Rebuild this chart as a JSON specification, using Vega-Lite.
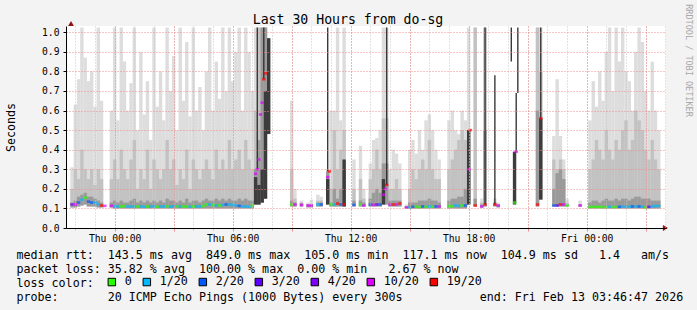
{
  "$schema": "https://vega.github.io/schema/vega-lite/v6.json",
  "width": 600,
  "height": 202,
  "autosize": {"type": "none"},
  "padding": {"left": 66, "top": 26, "right": 31, "bottom": 82},
  "background": "#f3f3f3",
  "config": {
    "view": {"fill": "#ffffff", "stroke": null},
    "font": "DejaVu Sans Mono",
    "axis": {"labelFont": "DejaVu Sans Mono", "titleFont": "DejaVu Sans Mono", "labelColor": "#000000", "titleColor": "#000000", "titleFontWeight": "normal"},
    "legend": {"labelFont": "DejaVu Sans Mono", "titleFont": "DejaVu Sans Mono"}
  },
  "title": {
    "text": "Last 30 Hours from do-sg",
    "font": "DejaVu Sans Mono",
    "fontSize": 13.2,
    "fontWeight": "normal",
    "color": "#000000",
    "anchor": "middle",
    "frame": "group",
    "baseline": "alphabetic",
    "offset": 0,
    "dx": -18,
    "dy": 33
  },
  "datasets": {
    "s": [
      {"t":"2026-02-11T21:50Z","lo":0.105,"a":0.31,"b":0.2,"c":0.13,"m":0.12,"l":"4/20"},
      {"t":"2026-02-11T22:00Z","lo":0.105,"a":0.63,"b":0.3,"c":0.14,"m":0.12,"l":"10/20"},
      {"t":"2026-02-11T22:10Z","lo":0.11,"a":0.76,"b":0.25,"c":0.16,"m":0.13,"l":"2/20"},
      {"t":"2026-02-11T22:20Z","lo":0.115,"a":1.024,"b":0.4,"c":0.17,"m":0.145,"l":"1/20"},
      {"t":"2026-02-11T22:30Z","lo":0.12,"a":0.87,"b":0.3,"c":0.18,"m":0.155,"l":"0"},
      {"t":"2026-02-11T22:40Z","lo":0.11,"a":0.75,"b":0.25,"c":0.16,"m":0.135,"l":"2/20"},
      {"t":"2026-02-11T22:50Z","lo":0.11,"a":0.8,"b":0.3,"c":0.16,"m":0.13,"l":"2/20"},
      {"t":"2026-02-11T23:00Z","lo":0.11,"a":0.62,"b":0.22,"c":0.15,"m":0.13,"l":"1/20"},
      {"t":"2026-02-11T23:10Z","lo":0.105,"a":1.024,"b":0.3,"c":0.14,"m":0.12,"l":"1/20"},
      {"t":"2026-02-11T23:20Z","lo":0.105,"a":0.65,"b":0.25,"c":0.13,"m":0.115,"l":"19/20"},
      {"t":"2026-02-11T23:30Z","m":0.113,"l":"10/20"},
      {"t":"2026-02-11T23:50Z","lo":0.105,"a":0.6,"b":0.25,"c":0.13,"m":0.113,"l":"10/20"},
      {"t":"2026-02-12T00:00Z","lo":0.1,"a":1.024,"b":0.35,"c":0.14,"m":0.11,"l":"1/20"},
      {"t":"2026-02-12T00:10Z","lo":0.1,"a":0.55,"b":0.25,"c":0.13,"m":0.11,"l":"1/20"},
      {"t":"2026-02-12T00:20Z","lo":0.1,"a":1.024,"b":0.4,"c":0.14,"m":0.11,"l":"0"},
      {"t":"2026-02-12T00:30Z","lo":0.1,"a":0.85,"b":0.3,"c":0.13,"m":0.112,"l":"0"},
      {"t":"2026-02-12T00:40Z","lo":0.1,"a":0.6,"b":0.25,"c":0.13,"m":0.11,"l":"1/20"},
      {"t":"2026-02-12T00:50Z","lo":0.1,"a":0.74,"b":0.35,"c":0.14,"m":0.11,"l":"1/20"},
      {"t":"2026-02-12T01:00Z","lo":0.1,"a":1.024,"b":0.45,"c":0.15,"m":0.108,"l":"1/20"},
      {"t":"2026-02-12T01:10Z","lo":0.1,"a":0.5,"b":0.2,"c":0.13,"m":0.11,"l":"0"},
      {"t":"2026-02-12T01:20Z","lo":0.1,"a":0.9,"b":0.3,"c":0.14,"m":0.11,"l":"1/20"},
      {"t":"2026-02-12T01:30Z","lo":0.1,"a":0.58,"b":0.25,"c":0.13,"m":0.108,"l":"1/20"},
      {"t":"2026-02-12T01:40Z","lo":0.1,"a":0.75,"b":0.4,"c":0.14,"m":0.11,"l":"0"},
      {"t":"2026-02-12T01:50Z","lo":0.1,"a":0.45,"b":0.2,"c":0.13,"m":0.11,"l":"1/20"},
      {"t":"2026-02-12T02:00Z","lo":0.1,"a":1.024,"b":0.35,"c":0.14,"m":0.11,"l":"1/20"},
      {"t":"2026-02-12T02:10Z","lo":0.1,"a":0.62,"b":0.3,"c":0.13,"m":0.108,"l":"0"},
      {"t":"2026-02-12T02:20Z","lo":0.1,"a":0.8,"b":0.25,"c":0.14,"m":0.11,"l":"1/20"},
      {"t":"2026-02-12T02:30Z","lo":0.1,"a":0.55,"b":0.3,"c":0.13,"m":0.11,"l":"1/20"},
      {"t":"2026-02-12T02:40Z","lo":0.1,"a":1.024,"b":0.45,"c":0.15,"m":0.11,"l":"0"},
      {"t":"2026-02-12T02:50Z","lo":0.1,"a":0.7,"b":0.3,"c":0.14,"m":0.108,"l":"1/20"},
      {"t":"2026-02-12T03:00Z","lo":0.1,"a":0.88,"b":0.35,"c":0.14,"m":0.11,"l":"1/20"},
      {"t":"2026-02-12T03:10Z","lo":0.1,"a":0.5,"b":0.22,"c":0.13,"m":0.11,"l":"0"},
      {"t":"2026-02-12T03:20Z","lo":0.1,"a":1.024,"b":0.3,"c":0.14,"m":0.11,"l":"1/20"},
      {"t":"2026-02-12T03:30Z","lo":0.1,"a":0.65,"b":0.25,"c":0.13,"m":0.11,"l":"0"},
      {"t":"2026-02-12T03:40Z","lo":0.1,"a":0.95,"b":0.4,"c":0.15,"m":0.11,"l":"0"},
      {"t":"2026-02-12T03:50Z","lo":0.1,"a":0.57,"b":0.2,"c":0.13,"m":0.108,"l":"1/20"},
      {"t":"2026-02-12T04:00Z","lo":0.1,"a":1.024,"b":0.35,"c":0.14,"m":0.11,"l":"0"},
      {"t":"2026-02-12T04:10Z","lo":0.1,"a":0.6,"b":0.3,"c":0.14,"m":0.11,"l":"1/20"},
      {"t":"2026-02-12T04:20Z","lo":0.1,"a":0.72,"b":0.25,"c":0.13,"m":0.11,"l":"1/20"},
      {"t":"2026-02-12T04:30Z","lo":0.1,"a":0.5,"b":0.3,"c":0.14,"m":0.112,"l":"0"},
      {"t":"2026-02-12T04:40Z","lo":0.1,"a":0.8,"b":0.35,"c":0.15,"m":0.12,"l":"0"},
      {"t":"2026-02-12T04:50Z","lo":0.1,"a":1.024,"b":0.3,"c":0.14,"m":0.12,"l":"1/20"},
      {"t":"2026-02-12T05:00Z","lo":0.1,"a":0.6,"b":0.25,"c":0.14,"m":0.118,"l":"0"},
      {"t":"2026-02-12T05:10Z","lo":0.1,"a":0.85,"b":0.4,"c":0.15,"m":0.115,"l":"1/20"},
      {"t":"2026-02-12T05:20Z","lo":0.1,"a":0.66,"b":0.3,"c":0.14,"m":0.115,"l":"0"},
      {"t":"2026-02-12T05:30Z","lo":0.1,"a":1.024,"b":0.35,"c":0.15,"m":0.118,"l":"1/20"},
      {"t":"2026-02-12T05:40Z","lo":0.1,"a":0.7,"b":0.3,"c":0.14,"m":0.12,"l":"2/20"},
      {"t":"2026-02-12T05:50Z","lo":0.1,"a":1.024,"b":0.45,"c":0.15,"m":0.12,"l":"1/20"},
      {"t":"2026-02-12T06:00Z","lo":0.1,"a":0.75,"b":0.3,"c":0.14,"m":0.118,"l":"1/20"},
      {"t":"2026-02-12T06:10Z","lo":0.1,"a":0.9,"b":0.35,"c":0.14,"m":0.115,"l":"1/20"},
      {"t":"2026-02-12T06:20Z","lo":0.1,"a":1.024,"b":0.4,"c":0.15,"m":0.113,"l":"2/20"},
      {"t":"2026-02-12T06:30Z","lo":0.1,"a":0.6,"b":0.3,"c":0.14,"m":0.11,"l":"1/20"},
      {"t":"2026-02-12T06:40Z","lo":0.1,"a":1.024,"b":0.45,"c":0.15,"m":0.11,"l":"1/20"},
      {"t":"2026-02-12T06:50Z","lo":0.1,"a":0.9,"b":0.35,"c":0.14,"m":0.108,"l":"1/20"},
      {"t":"2026-02-12T07:00Z","lo":0.1,"a":0.7,"b":0.3,"c":0.14,"m":0.115,"l":"0"},
      {"t":"2026-02-12T07:10Z","lo":0.12,"a":1.024,"b":0.6,"c":0.3,"d":0.26,"m":0.277,"l":"10/20"},
      {"t":"2026-02-12T07:15Z","m":0.3,"l":"10/20"},
      {"t":"2026-02-12T07:20Z","lo":0.12,"a":1.024,"b":1.024,"c":0.45,"d":0.22,"m":0.35,"l":"10/20"},
      {"t":"2026-02-12T07:25Z","m":0.58,"l":"10/20"},
      {"t":"2026-02-12T07:30Z","lo":0.13,"a":1.024,"b":1.024,"c":1.024,"d":0.3,"m":0.64,"l":"10/20"},
      {"t":"2026-02-12T07:35Z","m":0.76,"l":"19/20"},
      {"t":"2026-02-12T07:40Z","lo":0.15,"a":1.024,"b":1.024,"c":1.024,"d":0.7,"m":0.79,"l":"19/20"},
      {"t":"2026-02-12T07:50Z","lo":0.48,"d":0.97},
      {"t":"2026-02-12T09:00Z","lo":0.11,"a":0.65,"b":0.3,"c":0.14,"m":0.12,"l":"0"},
      {"t":"2026-02-12T09:10Z","lo":0.11,"a":0.2,"b":0.15,"c":0.13,"m":0.12,"l":"10/20"},
      {"t":"2026-02-12T09:30Z","lo":0.11,"a":0.14,"b":0.13,"c":0.125,"m":0.118,"l":"10/20"},
      {"t":"2026-02-12T09:50Z","lo":0.105,"a":0.13,"c":0.12,"m":0.115,"l":"10/20"},
      {"t":"2026-02-12T10:00Z","lo":0.105,"a":0.145,"c":0.12,"m":0.115,"l":"10/20"},
      {"t":"2026-02-12T10:20Z","lo":0.11,"a":0.17,"b":0.14,"c":0.13,"m":0.12,"l":"1/20"},
      {"t":"2026-02-12T10:30Z","lo":0.11,"a":0.16,"b":0.14,"c":0.13,"m":0.12,"l":"2/20"},
      {"t":"2026-02-12T10:50Z","lo":0.12,"a":0.3,"c":0.29,"d":0.25,"m":0.26,"l":"10/20"},
      {"t":"2026-02-12T10:55Z","m":0.289,"l":"19/20"},
      {"t":"2026-02-12T11:00Z","lo":0.11,"a":0.6,"b":0.2,"c":0.13,"m":0.12,"l":"0"},
      {"t":"2026-02-12T11:10Z","lo":0.11,"a":0.6,"b":0.5,"c":0.2,"m":0.12,"l":"1/20"},
      {"t":"2026-02-12T11:20Z","lo":0.11,"a":1.024,"b":0.3,"c":0.15,"m":0.125,"l":"19/20"},
      {"t":"2026-02-12T11:30Z","lo":0.11,"a":0.55,"b":0.4,"c":0.2,"m":0.12,"l":"2/20"},
      {"t":"2026-02-12T11:40Z","lo":0.11,"a":1.024,"b":0.5,"c":0.3,"d":0.35,"m":0.12,"l":"19/20"},
      {"t":"2026-02-12T12:10Z","lo":0.11,"a":0.35,"b":0.2,"c":0.14,"m":0.118,"l":"2/20"},
      {"t":"2026-02-12T12:30Z","lo":0.11,"a":0.42,"b":0.25,"c":0.14,"m":0.12,"l":"0"},
      {"t":"2026-02-12T12:40Z","lo":0.11,"a":0.2,"b":0.15,"c":0.13,"m":0.115,"l":"10/20"},
      {"t":"2026-02-12T13:00Z","lo":0.11,"a":0.33,"b":0.25,"c":0.15,"m":0.12,"l":"2/20"},
      {"t":"2026-02-12T13:10Z","lo":0.11,"a":0.45,"b":0.3,"c":0.18,"m":0.118,"l":"10/20"},
      {"t":"2026-02-12T13:20Z","lo":0.11,"a":0.46,"b":0.4,"c":0.2,"m":0.12,"l":"3/20"},
      {"t":"2026-02-12T13:30Z","lo":0.11,"a":0.5,"b":0.3,"c":0.18,"m":0.12,"l":"2/20"},
      {"t":"2026-02-12T13:40Z","lo":0.12,"a":1.024,"b":0.56,"c":0.33,"d":0.25,"m":0.17,"l":"10/20"},
      {"t":"2026-02-12T13:45Z","m":0.2,"l":"10/20"},
      {"t":"2026-02-12T13:50Z","lo":0.12,"a":1.024,"b":0.56,"c":0.33,"m":0.22,"l":"19/20"},
      {"t":"2026-02-12T14:00Z","lo":0.11,"a":0.3,"b":0.2,"c":0.14,"m":0.12,"l":"10/20"},
      {"t":"2026-02-12T14:10Z","lo":0.11,"a":0.4,"b":0.2,"c":0.14,"m":0.12,"l":"19/20"},
      {"t":"2026-02-12T14:20Z","lo":0.11,"a":0.38,"b":0.25,"c":0.14,"m":0.12,"l":"10/20"},
      {"t":"2026-02-12T14:30Z","lo":0.11,"a":0.33,"b":0.2,"c":0.14,"m":0.125,"l":"19/20"},
      {"t":"2026-02-12T14:50Z","lo":0.1,"a":0.12,"c":0.11,"m":0.105,"l":"10/20"},
      {"t":"2026-02-12T15:00Z","lo":0.1,"a":0.4,"b":0.2,"c":0.13,"m":0.105,"l":"1/20"},
      {"t":"2026-02-12T15:10Z","lo":0.1,"a":0.45,"b":0.3,"c":0.13,"m":0.108,"l":"2/20"},
      {"t":"2026-02-12T15:20Z","lo":0.1,"a":0.38,"b":0.25,"c":0.13,"m":0.11,"l":"0"},
      {"t":"2026-02-12T15:30Z","lo":0.1,"a":0.5,"b":0.3,"c":0.14,"m":0.105,"l":"0"},
      {"t":"2026-02-12T15:40Z","lo":0.1,"a":0.4,"b":0.35,"c":0.14,"m":0.11,"l":"2/20"},
      {"t":"2026-02-12T15:50Z","lo":0.1,"a":0.55,"b":0.3,"c":0.14,"m":0.108,"l":"0"},
      {"t":"2026-02-12T16:00Z","lo":0.1,"a":0.58,"b":0.45,"c":0.15,"m":0.11,"l":"1/20"},
      {"t":"2026-02-12T16:10Z","lo":0.1,"a":0.5,"b":0.3,"c":0.14,"m":0.108,"l":"0"},
      {"t":"2026-02-12T16:20Z","lo":0.1,"a":0.4,"b":0.25,"c":0.14,"m":0.11,"l":"2/20"},
      {"t":"2026-02-12T16:30Z","lo":0.1,"a":0.35,"b":0.25,"c":0.13,"m":0.11,"l":"10/20"},
      {"t":"2026-02-12T17:00Z","lo":0.1,"a":0.55,"b":0.3,"c":0.14,"m":0.112,"l":"0"},
      {"t":"2026-02-12T17:10Z","lo":0.1,"a":0.6,"b":0.35,"c":0.15,"m":0.11,"l":"0"},
      {"t":"2026-02-12T17:20Z","lo":0.1,"a":0.5,"b":0.4,"c":0.15,"m":0.115,"l":"1/20"},
      {"t":"2026-02-12T17:30Z","lo":0.1,"a":0.48,"b":0.45,"c":0.16,"m":0.113,"l":"1/20"},
      {"t":"2026-02-12T17:40Z","lo":0.1,"a":0.6,"b":0.5,"c":0.16,"m":0.115,"l":"0"},
      {"t":"2026-02-12T17:50Z","lo":0.1,"a":0.55,"b":0.45,"c":0.2,"m":0.115,"l":"2/20"},
      {"t":"2026-02-12T18:00Z","lo":0.12,"a":1.024,"b":0.5,"c":0.3,"d":0.5,"m":0.3,"l":"10/20"},
      {"t":"2026-02-12T18:05Z","m":0.5,"l":"19/20"},
      {"t":"2026-02-12T18:20Z","lo":0.11,"a":1.024,"b":1.024,"c":0.15,"m":0.115,"l":"19/20"},
      {"t":"2026-02-12T18:40Z","lo":0.105,"a":0.15,"b":0.13,"c":0.12,"m":0.11,"l":"10/20"},
      {"t":"2026-02-12T18:50Z","lo":0.11,"a":1.024,"b":1.024,"c":0.5,"m":0.12,"l":"19/20"},
      {"t":"2026-02-12T19:20Z","lo":0.11,"a":0.15,"c":0.13,"m":0.12,"l":"19/20"},
      {"t":"2026-02-12T19:30Z","lo":0.105,"a":0.13,"c":0.12,"m":0.115,"l":"10/20"},
      {"t":"2026-02-12T20:20Z","lo":0.12,"a":0.15,"d":0.39,"m":0.13,"l":"0"},
      {"t":"2026-02-12T20:25Z","m":0.39,"l":"10/20"},
      {"t":"2026-02-12T21:30Z","lo":0.11,"a":1.024,"b":1.024,"c":0.6,"m":0.12,"l":"19/20"},
      {"t":"2026-02-12T21:40Z","lo":0.145,"a":1.024,"b":0.8,"d":0.56,"m":0.56,"l":"19/20"},
      {"t":"2026-02-12T22:20Z","lo":0.11,"a":0.47,"b":0.35,"c":0.2,"m":0.115,"l":"2/20"},
      {"t":"2026-02-12T22:30Z","lo":0.11,"a":0.76,"b":0.3,"c":0.28,"m":0.115,"l":"3/20"},
      {"t":"2026-02-12T22:40Z","lo":0.11,"a":0.47,"b":0.35,"c":0.3,"m":0.12,"l":"19/20"},
      {"t":"2026-02-12T22:50Z","lo":0.11,"a":0.35,"b":0.3,"c":0.25,"m":0.12,"l":"10/20"},
      {"t":"2026-02-12T23:00Z","lo":0.11,"a":0.15,"b":0.13,"c":0.12,"m":0.115,"l":"0"},
      {"t":"2026-02-12T23:40Z","lo":0.11,"a":0.14,"c":0.12,"m":0.115,"l":"10/20"},
      {"t":"2026-02-13T00:10Z","lo":0.1,"a":0.55,"b":0.3,"c":0.13,"m":0.107,"l":"0"},
      {"t":"2026-02-13T00:20Z","lo":0.1,"a":0.75,"b":0.35,"c":0.14,"m":0.108,"l":"0"},
      {"t":"2026-02-13T00:30Z","lo":0.1,"a":0.62,"b":0.45,"c":0.14,"m":0.107,"l":"0"},
      {"t":"2026-02-13T00:40Z","lo":0.1,"a":0.8,"b":0.4,"c":0.13,"m":0.108,"l":"0"},
      {"t":"2026-02-13T00:50Z","lo":0.1,"a":0.65,"b":0.35,"c":0.14,"m":0.106,"l":"0"},
      {"t":"2026-02-13T01:00Z","lo":0.1,"a":0.9,"b":0.5,"c":0.15,"m":0.107,"l":"0"},
      {"t":"2026-02-13T01:10Z","lo":0.1,"a":1.024,"b":0.4,"c":0.14,"m":0.108,"l":"1/20"},
      {"t":"2026-02-13T01:20Z","lo":0.1,"a":0.7,"b":0.35,"c":0.14,"m":0.106,"l":"0"},
      {"t":"2026-02-13T01:30Z","lo":0.1,"a":1.024,"b":0.45,"c":0.15,"m":0.107,"l":"0"},
      {"t":"2026-02-13T01:40Z","lo":0.1,"a":0.85,"b":0.4,"c":0.14,"m":0.108,"l":"2/20"},
      {"t":"2026-02-13T01:50Z","lo":0.1,"a":1.024,"b":0.5,"c":0.15,"m":0.11,"l":"1/20"},
      {"t":"2026-02-13T02:00Z","lo":0.1,"a":0.8,"b":0.55,"c":0.15,"m":0.108,"l":"1/20"},
      {"t":"2026-02-13T02:10Z","lo":0.1,"a":0.75,"b":0.4,"c":0.14,"m":0.108,"l":"1/20"},
      {"t":"2026-02-13T02:20Z","lo":0.1,"a":0.6,"b":0.45,"c":0.15,"m":0.11,"l":"2/20"},
      {"t":"2026-02-13T02:30Z","lo":0.1,"a":0.9,"b":0.6,"c":0.16,"m":0.11,"l":"1/20"},
      {"t":"2026-02-13T02:40Z","lo":0.1,"a":1.024,"b":0.55,"c":0.16,"m":0.11,"l":"2/20"},
      {"t":"2026-02-13T02:50Z","lo":0.1,"a":0.95,"b":0.5,"c":0.15,"m":0.108,"l":"1/20"},
      {"t":"2026-02-13T03:00Z","lo":0.1,"a":0.7,"b":0.4,"c":0.15,"m":0.105,"l":"0"},
      {"t":"2026-02-13T03:10Z","lo":0.1,"a":0.6,"b":0.35,"c":0.15,"m":0.108,"l":"3/20"},
      {"t":"2026-02-13T03:20Z","lo":0.1,"a":0.85,"b":0.45,"c":0.14,"m":0.11,"l":"1/20"},
      {"t":"2026-02-13T03:30Z","lo":0.1,"a":0.6,"b":0.35,"c":0.14,"m":0.112,"l":"1/20"},
      {"t":"2026-02-13T03:40Z","lo":0.1,"a":0.5,"b":0.3,"c":0.14,"m":0.113,"l":"1/20"}
    ],
    "r": [
      {"t":"2026-02-12T07:15Z","y0":0.3,"y1":1.024},
      {"t":"2026-02-12T07:35Z","y0":0.76,"y1":1.024},
      {"t":"2026-02-12T10:50Z","y0":0.29,"y1":1.024},
      {"t":"2026-02-12T13:50Z","y0":0.22,"y1":1.024},
      {"t":"2026-02-12T18:50Z","y0":0.12,"y1":1.024},
      {"t":"2026-02-12T19:20Z","y0":0.12,"y1":0.78},
      {"t":"2026-02-12T20:10Z","y0":0.85,"y1":1.024},
      {"t":"2026-02-12T20:25Z","y0":0.39,"y1":0.69},
      {"t":"2026-02-12T20:30Z","y0":0.69,"y1":1.024},
      {"t":"2026-02-12T21:40Z","y0":0.56,"y1":1.024}
    ]
  },
  "data": {"name": "s"},
  "layer": [
    {
      "transform": [{"filter": "isValid(datum.a)"}],
      "mark": {"type": "bar", "width": 3.4, "color": "#dddddd"},
      "encoding": {
        "x": {
          "field": "t",
          "type": "temporal",
          "scale": {
            "type": "utc",
            "domain": [
              {"year": 2026, "month": 2, "date": 11, "hours": 21, "minutes": 46, "seconds": 47, "utc": true},
              {"year": 2026, "month": 2, "date": 13, "hours": 3, "minutes": 46, "seconds": 47, "utc": true}
            ]
          },
          "axis": {
            "orient": "bottom",
            "tickCount": 30,
            "labels": false,
            "ticks": true,
            "tickColor": "#c4c4c4",
            "tickSize": 2,
            "domain": false,
            "grid": true,
            "gridColor": "#c4c4c4",
            "gridDash": [1, 2],
            "zindex": 1,
            "title": null
          }
        },
        "y": {
          "field": "lo",
          "type": "quantitative",
          "scale": {"domain": [0, 1.032], "nice": false, "zero": false},
          "axis": {
            "orient": "left",
            "values": [0, 0.1, 0.2, 0.3, 0.4, 0.5, 0.6, 0.7, 0.8, 0.9, 1.0],
            "format": ".1f",
            "labelFontSize": 9.7,
            "labelPadding": 4,
            "grid": true,
            "gridColor": "#f08a8a",
            "gridDash": [1, 2],
            "tickColor": "#000000",
            "tickSize": 3,
            "domainColor": "#000000",
            "zindex": 1,
            "title": "Seconds",
            "titleFontSize": 11.66,
            "titleX": -51.5,
            "titleY": 101,
            "titleBaseline": "alphabetic",
            "titleAlign": "center"
          }
        },
        "y2": {"field": "a"}
      }
    },
    {
      "transform": [{"filter": "isValid(datum.b)"}],
      "mark": {"type": "bar", "width": 3.4, "color": "#c2c2c2"},
      "encoding": {
        "x": {
          "field": "t",
          "type": "temporal",
          "axis": {
            "orient": "bottom",
            "tickCount": 10,
            "labelExpr": "utchours(datum.value) % 6 === 0 ? utcFormat(datum.value, '%a %H:%M') : ''",
            "labelFontSize": 9.7,
            "labelFlush": false,
            "labelOverlap": false,
            "labelBound": false,
            "labelPadding": 2,
            "grid": true,
            "gridColor": "#f08a8a",
            "gridDash": [1, 2],
            "tickColor": "#f08a8a",
            "tickSize": 3,
            "domainColor": "#000000",
            "zindex": 1,
            "title": [
              "median rtt:\u00a0\u00a0143.5 ms avg\u00a0\u00a0849.0 ms max\u00a0\u00a0105.0 ms min\u00a0\u00a0117.1 ms now\u00a0\u00a0104.9 ms sd\u00a0\u00a0\u00a01.4\u00a0\u00a0\u00a0am/s",
              "packet loss: 35.82 % avg\u00a0\u00a0100.00 % max\u00a0\u00a00.00 % min\u00a0\u00a0\u00a02.67 % now",
              "loss color:",
              "probe:\u00a0\u00a0\u00a0\u00a0\u00a0\u00a0\u00a020 ICMP Echo Pings (1000 Bytes) every 300s\u00a0\u00a0\u00a0\u00a0\u00a0\u00a0\u00a0\u00a0\u00a0\u00a0\u00a0end: Fri Feb 13 03:46:47 2026"
            ],
            "titleFontSize": 11.66,
            "titleAlign": "left",
            "titleBaseline": "alphabetic",
            "titleX": -50,
            "titleY": 30,
            "titleLineHeight": 14
          }
        },
        "y": {"field": "lo", "type": "quantitative", "axis": null},
        "y2": {"field": "b"}
      }
    },
    {
      "transform": [{"filter": "isValid(datum.c)"}],
      "mark": {"type": "bar", "width": 3.4, "color": "#9a9a9a"},
      "encoding": {"x": {"field": "t", "type": "temporal", "axis": null}, "y": {"field": "lo", "type": "quantitative", "axis": null}, "y2": {"field": "c"}}
    },
    {
      "transform": [{"filter": "isValid(datum.d)"}],
      "mark": {"type": "bar", "width": 3.4, "color": "#3c3c3c"},
      "encoding": {"x": {"field": "t", "type": "temporal", "axis": null}, "y": {"field": "lo", "type": "quantitative", "axis": null}, "y2": {"field": "d"}}
    },
    {
      "data": {"name": "r"},
      "mark": {"type": "rule", "color": "#2a2a2a", "strokeWidth": 1.3},
      "encoding": {
        "x": {"field": "t", "type": "temporal", "axis": null},
        "y": {
          "field": "y0",
          "type": "quantitative",
          "axis": {
            "orient": "right",
            "labels": false,
            "ticks": false,
            "domain": false,
            "grid": false,
            "title": "RRDTOOL / TOBI OETIKER",
            "titleFontSize": 8.5,
            "titleColor": "#a8a8a8",
            "titleAngle": 90,
            "titleX": 19,
            "titleY": 34,
            "titleAlign": "center",
            "titleBaseline": "alphabetic"
          }
        },
        "y2": {"field": "y1"}
      }
    },
    {
      "transform": [{"filter": "isValid(datum.m)"}],
      "mark": {"type": "tick", "orient": "horizontal", "size": 3.4, "thickness": 2.6},
      "encoding": {
        "x": {"field": "t", "type": "temporal", "axis": null},
        "y": {"field": "m", "type": "quantitative", "axis": null},
        "color": {
          "field": "l",
          "type": "nominal",
          "scale": {
            "domain": ["0", "1/20", "2/20", "3/20", "4/20", "10/20", "19/20"],
            "range": ["#26ff00", "#00b8ff", "#0059ff", "#5e00ff", "#7e00ff", "#dd00ff", "#ff0000"]
          },
          "legend": {
            "orient": "none",
            "legendX": 40,
            "legendY": 250,
            "direction": "horizontal",
            "title": null,
            "symbolType": "square",
            "symbolSize": 56,
            "symbolStrokeColor": "#000000",
            "symbolStrokeWidth": 1,
            "symbolOpacity": 1,
            "labelFontSize": 11.66,
            "labelColor": "#000000",
            "labelOffset": 7,
            "columnPadding": 9,
            "padding": 0,
            "labelLimit": 200
          }
        }
      }
    },
    {
      "data": {"values": [{}]},
      "mark": {"type": "point", "shape": "triangle-up", "filled": true, "color": "#8f1414", "size": 34, "opacity": 1},
      "encoding": {
        "x": {"datum": {"year": 2026, "month": 2, "date": 11, "hours": 21, "minutes": 46, "seconds": 47, "utc": true}, "type": "temporal", "axis": null},
        "y": {"datum": 1.045, "type": "quantitative", "axis": null}
      }
    },
    {
      "data": {"values": [{}]},
      "mark": {"type": "point", "shape": "triangle-right", "filled": true, "color": "#8f1414", "size": 34, "opacity": 1},
      "encoding": {
        "x": {"datum": {"year": 2026, "month": 2, "date": 13, "hours": 4, "minutes": 0, "seconds": 15, "utc": true}, "type": "temporal", "axis": null},
        "y": {"datum": 0, "type": "quantitative", "axis": null}
      }
    }
  ],
  "resolve": {"axis": {"x": "independent", "y": "independent"}}
}
